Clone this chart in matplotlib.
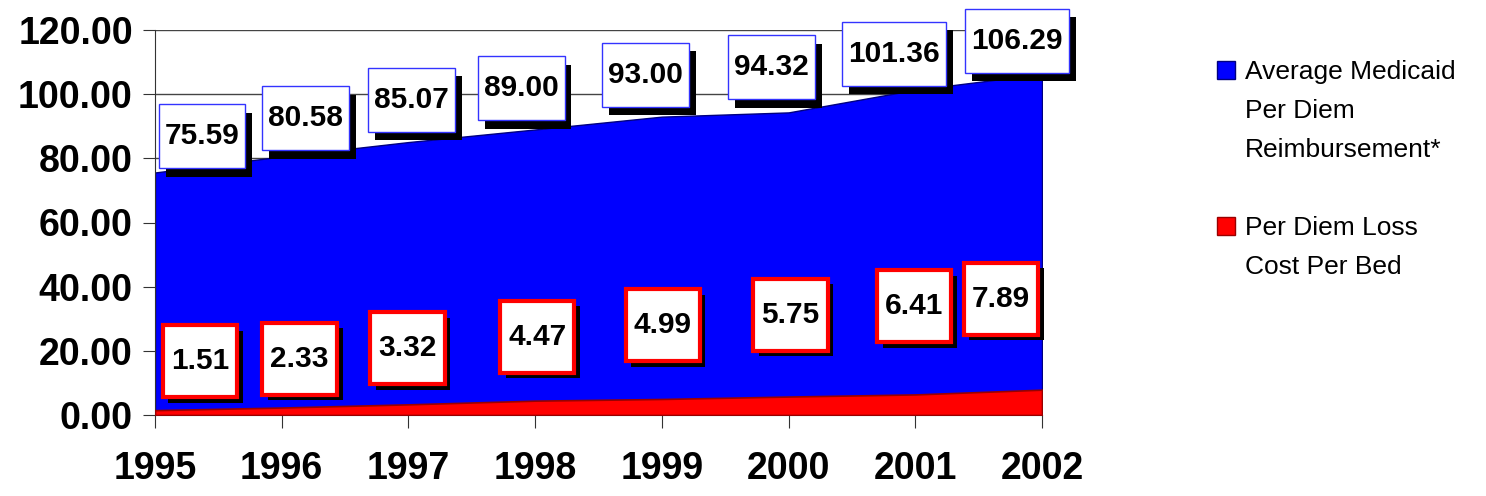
import numpy as np
import matplotlib.pyplot as plt
import matplotlib.patheffects as pe
from matplotlib.path import Path
from matplotlib.patches import Rectangle

plt.rcParams['font.family'] = ['Liberation Sans', 'DejaVu Sans']

# Data
years = [1995, 1996, 1997, 1998, 1999, 2000, 2001, 2002]
medicaid = [75.59, 80.58, 85.07, 89.00, 93.00, 94.32, 101.36, 106.29]
loss = [1.51, 2.33, 3.32, 4.47, 4.99, 5.75, 6.41, 7.89]
yticks = [0, 20, 40, 60, 80, 100, 120]

# label offsets from the point (pixels: right, up)
blue_off = [(47, 36), (24, 38), (3, 42), (-14, 41), (-16, 42), (-17, 45), (-21, 36), (-25, 33)]
red_off = [(45, 49), (18, 49), (-1, 56), (2, 64), (1, 74), (2, 82), (-1, 88), (-41, 91)]


def box_style(pad_x, pad_y):
    # rectangle with different horizontal / vertical padding (in pixels)
    def style(x0, y0, width, height, mutation_size):
        x1, y1 = x0 - pad_x, y0 - pad_y
        x2, y2 = x0 + width + pad_x, y0 + height + pad_y
        return Path([(x1, y1), (x2, y1), (x2, y2), (x1, y2), (x1, y1)], closed=True)
    return style


fig = plt.figure(figsize=(14.86, 4.96), dpi=100)
ax = fig.add_axes([155 / 1486, 1 - 415 / 496, (1042 - 155) / 1486, (415 - 30) / 496])

ax.fill_between(years, 0, medicaid, facecolor='#0000FF', edgecolor='#000080', lw=1, zorder=2)
ax.fill_between(years, 0, loss, facecolor='#FF0000', edgecolor='#990000', lw=1.2, zorder=3)

ax.set_xlim(1995, 2002)
ax.set_ylim(0, 120)
ax.set_yticks(yticks)
ax.set_yticklabels(['%.2f' % v for v in yticks])
ax.set_xticks(years)
ax.set_xticklabels([str(y) for y in years])
ax.grid(axis='y', color='#444444', lw=1, zorder=1)
ax.set_axisbelow(True)

for s in ['top', 'right']:
    ax.spines[s].set_visible(False)
for s in ['left', 'bottom']:
    ax.spines[s].set_color('#333333')
ax.tick_params(axis='both', direction='out', length=9, color='#333333')
ax.tick_params(axis='y', labelsize=27, pad=7)
ax.tick_params(axis='x', labelsize=27, pad=17)
for lab in ax.get_xticklabels() + ax.get_yticklabels():
    lab.set_fontweight('bold')

px = 0.72  # pixel -> point
for x, v, (dx, dy) in zip(years, medicaid, blue_off):
    t = ax.annotate('%.2f' % v, (x, v), xytext=(dx * px, dy * px), textcoords='offset points',
                    ha='center', va='center', fontsize=21.5, fontweight='bold', zorder=5,
                    annotation_clip=False,
                    bbox=dict(boxstyle=box_style(6, 18), fc='white', ec='#3333FF', lw=1))
    t.get_bbox_patch().set_path_effects([
        pe.SimplePatchShadow(offset=(5, -6), shadow_rgbFace='black', alpha=1), pe.Normal()])

for x, v, (dx, dy) in zip(years, loss, red_off):
    t = ax.annotate('%.2f' % v, (x, v), xytext=(dx * px, dy * px), textcoords='offset points',
                    ha='center', va='center', fontsize=21.5, fontweight='bold', zorder=5,
                    bbox=dict(boxstyle=box_style(8, 22), fc='white', ec='#FF0000', lw=3))
    t.get_bbox_patch().set_path_effects([
        pe.SimplePatchShadow(offset=(4, -4), shadow_rgbFace='black', alpha=1), pe.Normal()])

# legend
legend_items = [('#0000FF', '#000080', 'Average Medicaid\nPer Diem\nReimbursement*', 69),
                ('#FF0000', '#990000', 'Per Diem Loss\nCost Per Bed', 225)]
for fc, ec, text, ytop in legend_items:
    fig.add_artist(Rectangle((1217 / 1486, 1 - (ytop + 10) / 496), 18 / 1486, 18 / 496,
                             transform=fig.transFigure, fc=fc, ec=ec, lw=1))
    fig.text(1245 / 1486, 1 - (ytop - 9) / 496, text, fontsize=19, va='top', ha='left',
             linespacing=1.78)

fig.savefig('out.png', dpi=100)
